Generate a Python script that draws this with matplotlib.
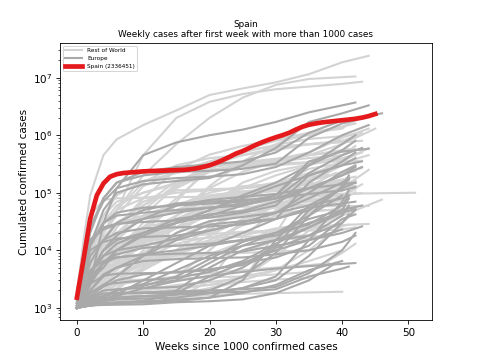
import numpy as np
import matplotlib.pyplot as plt

grid_weeks = [0, 1, 2, 4, 6, 10, 15, 20, 25, 30, 35, 40]

row_end = [44, 42, 43, 42, 41, 42, 43, 42, 45, 42, 42, 42, 44, 41, 41, 43, 43, 44, 41, 46,
           51, 44, 43, 42, 40, 44, 42, 41, 42, 41, 42, 42, 41, 42, 42, 43, 42, 41, 42, 42,
           42, 41, 40, 40, 40, 40, 39, 39, 40, 38, 40, 36, 41, 39, 42, 36, 42, 41, 41, 42,
           43, 44, 41, 35, 35, 38, 44, 42, 43]
row_cases = [
    [1500, 1.5e4, 9e4, 4.5e5, 8.5e5, 1.5e6, 2.7e6, 5e6, 6.5e6, 8.3e6, 1.15e7, 1.85e7, 2.4e7],
    [1000, 2000, 4000, 2e4, 5e4, 2e5, 7e5, 2e6, 4.5e6, 7.5e6, 9.5e6, 1.02e7, 1.05e7],
    [1000, 2000, 5000, 2e4, 5e4, 4.5e5, 2e6, 3.8e6, 5.2e6, 6.3e6, 7e6, 7.8e6, 8.5e6],
    [1000, 2000, 3500, 1e4, 2.5e4, 8e4, 2.5e5, 4.6e5, 6.5e5, 8.5e5, 1.1e6, 1.4e6, 1.6e6],
    [1000, 1500, 2000, 3500, 6000, 1.5e4, 4e4, 1.3e5, 3.5e5, 7e5, 1.1e6, 1.3e6, 1.6e6],
    [1000, 1500, 2500, 4500, 8000, 2.5e4, 8e4, 2.5e5, 5.5e5, 8e5, 1e6, 1.4e6, 1.8e6],
    [1100, 1600, 2000, 4500, 8000, 2.5e4, 7e4, 3e5, 5.5e5, 6.4e5, 6.9e5, 7.8e5, 1.1e6],
    [1000, 2500, 6000, 2e4, 4e4, 1.3e5, 2.3e5, 3.5e5, 5e5, 6.8e5, 8.6e5, 9.6e5, 1.05e6],
    [1500, 6000, 1.4e4, 4e4, 7e4, 1e5, 1.4e5, 1.9e5, 2.7e5, 3.6e5, 4.5e5, 7e5, 1.3e6],
    [1000, 2500, 4000, 8000, 1.5e4, 4e4, 1.3e5, 2.8e5, 3.4e5, 3.9e5, 4.5e5, 5.2e5, 5.8e5],
    [1000, 2000, 3500, 7000, 1.1e4, 1.8e4, 3e4, 6e4, 1.2e5, 2e5, 3e5, 4.5e5, 6.5e5],
    [1000, 3000, 4000, 7500, 1e4, 1.4e4, 2.5e4, 6e4, 1.5e5, 2.4e5, 3.1e5, 3.8e5, 4.5e5],
    [1000, 4000, 1e4, 2.8e4, 5e4, 8e4, 1e5, 1.1e5, 1.2e5, 1.4e5, 2e5, 3.5e5, 6e5],
    [1000, 1200, 1600, 2500, 3500, 1e4, 4e4, 1.2e5, 2.3e5, 3.5e5, 4.5e5, 5.5e5, 5.8e5],
    [1000, 2500, 5000, 1.3e4, 3e4, 6e4, 1.6e5, 2.5e5, 3e5, 3.5e5, 4e5, 4.5e5, 5e5],
    [1000, 2500, 4000, 1e4, 2e4, 5e4, 1.4e5, 2.4e5, 2.8e5, 3e5, 3.3e5, 4e5, 5e5],
    [1000, 1500, 3000, 8000, 1.7e4, 6e4, 1.2e5, 2.3e5, 2.9e5, 3.2e5, 3.4e5, 3.5e5, 3.6e5],
    [1000, 3000, 6000, 1e4, 1.4e4, 1.6e4, 1.7e4, 2.2e4, 7e4, 1.3e5, 2.6e5, 3.3e5, 4.5e5],
    [1000, 1500, 2500, 4000, 5500, 7500, 9000, 1.3e4, 3e4, 7e4, 1.7e5, 3e5, 4.3e5],
    [1000, 6000, 8000, 9800, 1.04e4, 1.1e4, 1.2e4, 1.4e4, 1.8e4, 2.4e4, 2.9e4, 4e4, 7.6e4],
    [2000, 1.2e4, 4e4, 7.5e4, 8e4, 8.2e4, 8.4e4, 8.5e4, 8.8e4, 9.3e4, 9.5e4, 9.6e4, 1e5],
    [1000, 2500, 4000, 6000, 6600, 7000, 7200, 8500, 1.4e4, 2.3e4, 2.6e4, 2.75e4, 2.87e4],
    [1000, 2000, 3000, 5000, 6000, 6800, 8000, 8700, 9200, 1.5e4, 4.5e4, 9e4, 1.4e5],
    [1000, 1500, 2200, 2800, 3000, 3100, 3200, 3400, 3500, 3800, 4200, 9000, 1.3e4],
    [1000, 1200, 1300, 1450, 1480, 1500, 1550, 1650, 1750, 1800, 1850, 1900],
    [1000, 1300, 1800, 4000, 9000, 1.4e4, 1.7e4, 2e4, 3.4e4, 6.5e4, 8.5e4, 1.2e5, 2.5e5],
    [1000, 1800, 3000, 6000, 9000, 1.6e4, 2.5e4, 4e4, 6e4, 8e4, 1e5, 1.2e5, 1.3e5],
    [1000, 1400, 2000, 3000, 4500, 9000, 2e4, 4.5e4, 7e4, 9e4, 1.1e5, 1.3e5, 1.4e5],
    [1100, 3000, 7000, 2.2e4, 3e4, 3.8e4, 5e4, 8e4, 1.2e5, 1.5e5, 1.9e5, 2.1e5, 2.4e5],
    [1000, 1500, 2500, 5000, 1e4, 2.5e4, 6e4, 1e5, 1.3e5, 1.4e5, 1.45e5, 1.6e5, 1.9e5],
    [1000, 2000, 3500, 6000, 8000, 1.3e4, 3e4, 7e4, 1e5, 1.2e5, 1.6e5, 2.3e5, 2.8e5],
    [1000, 2000, 4000, 6500, 1e4, 2e4, 4e4, 8e4, 1.05e5, 1.2e5, 1.4e5, 1.7e5, 1.9e5],
    [1000, 1300, 1700, 3000, 6000, 1.5e4, 3.5e4, 6.5e4, 8e4, 9.5e4, 1.15e5, 1.35e5, 1.4e5],
    [1000, 1800, 2800, 5000, 9000, 2.2e4, 6e4, 9e4, 1e5, 1.06e5, 1.15e5, 1.4e5, 1.6e5],
    [1000, 2000, 3500, 1e4, 2.5e4, 7e4, 1.1e5, 1.15e5, 1.2e5, 1.3e5, 1.38e5, 1.44e5, 1.48e5],
    [1000, 2000, 4500, 1.2e4, 2e4, 3.5e4, 4.8e4, 6e4, 8e4, 1.2e5, 1.7e5, 2.2e5, 2.7e5],
    [1000, 1500, 2500, 5000, 1e4, 3e4, 5e4, 7e4, 9e4, 1.2e5, 1.4e5, 1.5e5, 1.6e5],
    [1000, 1400, 2000, 4000, 6500, 1.3e4, 2.4e4, 4e4, 5e4, 5.8e4, 6.3e4, 7.5e4, 1.1e5],
    [1000, 1500, 2000, 4500, 6000, 9000, 1.6e4, 3.2e4, 4.2e4, 4.6e4, 4.8e4, 5.2e4, 5.8e4],
    [1000, 1300, 1800, 2700, 4000, 6000, 1e4, 1.5e4, 2.7e4, 3.9e4, 5e4, 7.5e4, 1.02e5],
    [1000, 1200, 1500, 2000, 3000, 5000, 1e4, 2.5e4, 4.5e4, 6e4, 7.5e4, 9e4, 1.15e5],
    [1000, 1100, 1200, 1300, 1500, 2000, 3500, 1e4, 3e4, 6e4, 1e5, 1.4e5, 1.7e5],
    [1000, 1150, 1300, 1800, 2600, 4500, 1e4, 2.5e4, 5e4, 7.5e4, 9e4, 1.08e5],
    [1000, 1300, 1500, 1700, 1850, 2000, 2300, 2500, 3500, 4500, 6500, 1e4],
    [1000, 1050, 1200, 1500, 1800, 2000, 2500, 2800, 3300, 8000, 2.2e4, 4.3e4],
    [1000, 1050, 1100, 1200, 1300, 1400, 1700, 2200, 3000, 4500, 1e4, 2.7e4],
    [1000, 1100, 1300, 1800, 2500, 4500, 9000, 1.8e4, 3.5e4, 6e4, 8e4, 1.1e5],
    [1000, 1050, 1100, 1200, 1400, 1800, 3500, 1e4, 3e4, 6.5e4, 1.3e5, 2.2e5],
    [1000, 1050, 1100, 1150, 1200, 1400, 1700, 2100, 3000, 2e4, 1.5e5, 3e5],
    [1000, 1500, 2500, 5000, 1e4, 1.7e4, 2.5e4, 4e4, 7e4, 1.5e5, 2.2e5, 2.55e5],
    [1000, 1500, 3000, 5000, 8000, 1.5e4, 4e4, 9e4, 1.05e5, 1.1e5, 1.25e5, 1.6e5],
    [1000, 1100, 1300, 1600, 2200, 5000, 1e4, 1.3e4, 1.5e4, 1.65e4, 1.8e4, 2e4],
    [1000, 1500, 2000, 3000, 6000, 1.2e4, 1.7e4, 1.9e4, 2.1e4, 2.2e4, 2.4e4, 2.6e4, 2.8e4],
    [1000, 1300, 1700, 2500, 3500, 5500, 8500, 1.3e4, 1.5e4, 1.55e4, 1.6e4, 2.1e4],
    [1000, 1100, 1300, 2000, 3000, 7000, 1.3e4, 1.7e4, 2e4, 2.1e4, 2.2e4, 2.3e4, 2.5e4],
    [1000, 1300, 1900, 3500, 7000, 1.2e4, 1.5e4, 1.65e4, 1.72e4, 1.76e4, 1.8e4, 1.85e4],
    [1000, 1500, 2500, 5000, 1.2e4, 2.5e4, 3.3e4, 3.7e4, 3.9e4, 4.1e4, 4.7e4, 5.2e4, 5.4e4],
    [1000, 1500, 1900, 2800, 3500, 6000, 1.5e4, 3e4, 5e4, 6.2e4, 7e4, 7.5e4, 7.8e4],
    [1000, 1100, 1200, 1400, 2000, 5000, 3e4, 4e4, 4.5e4, 5.5e4, 7.5e4, 8e4, 8.2e4],
    [1000, 2000, 3000, 6000, 1.5e4, 4e4, 6.5e4, 8e4, 9.5e4, 1.1e5, 1.22e5, 1.28e5, 1.32e5],
    [1000, 1500, 2500, 4500, 9000, 2e4, 3.5e4, 4.8e4, 6.2e4, 7.8e4, 8.6e4, 9.2e4, 9.8e4],
    [1000, 2500, 6000, 1.7e4, 3e4, 4e4, 4.7e4, 5.5e4, 5.7e4, 5.8e4, 5.8e4, 5.85e4, 5.9e4],
    [1000, 1050, 1100, 1150, 1180, 1200, 1400, 3000, 1.7e4, 5e4, 1e5, 1.4e5, 1.8e5],
    [1000, 1500, 3000, 6000, 7000, 7800, 8300, 8700, 9000, 9500, 1e4],
    [1000, 1100, 1200, 1400, 1600, 1800, 2100, 2500, 2800, 3100, 3300],
    [1000, 1200, 1500, 2000, 2500, 3000, 3500, 4000, 4500, 5000, 5500, 6000],
    [1000, 3000, 1e4, 4e4, 9e4, 1.6e5, 2.2e5, 2.8e5, 3.2e5, 3.8e5, 5e5, 9e5, 1.3e6],
    [1000, 2000, 5000, 2e4, 5e4, 1.5e5, 3e5, 4e5, 4.5e5, 5.5e5, 7e5, 8e5, 9e5],
    [1000, 2500, 8000, 3e4, 6e4, 1e5, 1.5e5, 3e5, 4.5e5, 6e5, 7e5, 7.5e5, 8e5],
]

eu_end = [42, 44, 46, 44, 44, 42, 42, 43, 44, 42, 42, 42, 43, 43, 42, 41, 41, 42, 41, 40,
          42, 43, 43, 42, 41, 41, 41, 41, 41, 41, 40, 42, 42, 42, 39, 41, 40, 42, 42, 42,
          41, 41, 42]
eu_cases = [
    [1000, 1500, 2500, 3e4, 1.2e5, 4.5e5, 7.5e5, 1e6, 1.25e6, 1.7e6, 2.5e6, 3.3e6, 3.7e6],
    [1200, 4000, 1.2e4, 5e4, 1e5, 1.4e5, 1.6e5, 1.8e5, 3e5, 6e5, 1.7e6, 2.4e6, 3.3e6],
    [1100, 5000, 2e4, 8e4, 1.5e5, 2.3e5, 2.8e5, 3.1e5, 3.5e5, 5e5, 1.1e6, 1.8e6, 2.4e6],
    [1500, 6000, 2.5e4, 8e4, 1.5e5, 2e5, 2.3e5, 2.4e5, 2.6e5, 3.2e5, 9e5, 1.6e6, 2.1e6],
    [1200, 5000, 2.5e4, 7e4, 1.2e5, 1.6e5, 1.8e5, 1.9e5, 2.1e5, 2.8e5, 5e5, 1.0e6, 1.5e6],
    [1000, 2000, 4000, 8000, 1.3e4, 2e4, 3e4, 4e4, 6e4, 9e4, 3e5, 7e5, 1.0e6],
    [1000, 1500, 2500, 6000, 1e4, 1.8e4, 3e4, 5e4, 9e4, 1.5e5, 3e5, 5.5e5, 8e5],
    [1300, 5000, 1.2e4, 3e4, 4e4, 4.5e4, 5e4, 5.5e4, 6e4, 8e4, 2.2e5, 4.5e5, 6e5],
    [1100, 4000, 1.2e4, 3e4, 4.5e4, 5.5e4, 6e4, 6.5e4, 7e4, 9e4, 3.5e5, 5.2e5, 5.8e5],
    [1000, 2000, 3000, 6000, 7500, 8500, 1e4, 1.2e4, 2e4, 3.5e4, 1.5e5, 3.5e5, 5e5],
    [1000, 2000, 4000, 1e4, 1.5e4, 2e4, 3e4, 5e4, 8e4, 1.3e5, 2e5, 3e5, 4e5],
    [1300, 6000, 1.5e4, 2.3e4, 2.8e4, 3.5e4, 4.5e4, 5.5e4, 6.5e4, 8e4, 1.2e5, 2e5, 2.8e5],
    [1000, 2000, 4000, 1e4, 1.8e4, 3.5e4, 6e4, 7.5e4, 8.5e4, 9.5e4, 1.2e5, 2e5, 2.8e5],
    [1400, 6000, 1.5e4, 2.5e4, 2.9e4, 3.1e4, 3.3e4, 3.7e4, 4.5e4, 6e4, 2e5, 3e5, 3.5e5],
    [1200, 4500, 1e4, 1.4e4, 1.6e4, 1.7e4, 1.8e4, 2.2e4, 3e4, 4.5e4, 1e5, 2.3e5, 3e5],
    [1000, 1800, 4000, 8000, 1e4, 1.2e4, 1.6e4, 2.8e4, 3.2e4, 3.5e4, 5e4, 1.2e5, 2e5],
    [1000, 1200, 1600, 2300, 3000, 3800, 4200, 4700, 5500, 1.2e4, 5e4, 1.2e5, 1.8e5],
    [1100, 3000, 8000, 1.5e4, 2e4, 2.4e4, 2.5e4, 2.6e4, 2.8e4, 3.5e4, 5.5e4, 6.5e4, 7e4],
    [1000, 1300, 1800, 2500, 2700, 3000, 3300, 4200, 6500, 1.3e4, 2.5e4, 5e4, 8e4],
    [1000, 1100, 1300, 1500, 1500, 1600, 1700, 2000, 3500, 9000, 4e4, 9e4],
    [1100, 2500, 6000, 1.5e4, 3e4, 5e4, 6.5e4, 7e4, 7.5e4, 8e4, 9.5e4, 1.1e5, 1.25e5],
    [1200, 2000, 3500, 6000, 8500, 1.1e4, 1.2e4, 1.3e4, 1.5e4, 2e4, 3.5e4, 5e4, 6e4],
    [1100, 3000, 4500, 6500, 7500, 8300, 8700, 9000, 9500, 1.2e4, 1.5e4, 2e4, 2.6e4],
    [1000, 1300, 2000, 3800, 5000, 6500, 7000, 7300, 7500, 8500, 1e4, 1.4e4, 1.8e4],
    [1000, 1200, 1500, 2000, 2100, 2200, 2300, 3000, 5000, 1.1e4, 1.8e4, 4e4, 6e4],
    [1000, 1100, 1300, 1600, 2000, 2400, 3500, 7000, 1.4e4, 2e4, 4e4, 1.3e5, 1.7e5],
    [1000, 1100, 1200, 1300, 1400, 1450, 1500, 1800, 2200, 3500, 1.5e4, 7e4, 1.1e5],
    [1000, 1100, 1300, 1500, 2000, 2500, 3000, 6000, 1.2e4, 2e4, 2.8e4, 6e4, 9e4],
    [1000, 1300, 2000, 3500, 5000, 8000, 1.5e4, 2.2e4, 3e4, 4.5e4, 6e4, 8e4, 9e4],
    [1000, 1200, 1400, 1600, 2000, 2600, 4500, 8000, 1.2e4, 1.5e4, 1.8e4, 3e4, 4.2e4],
    [1000, 1050, 1100, 1150, 1200, 1300, 1800, 3500, 6000, 1e4, 1.5e4, 2.3e4],
    [1000, 1100, 1200, 1400, 1500, 1600, 1700, 1800, 2200, 3000, 8000, 3e4, 5e4],
    [1200, 2000, 2600, 3600, 3900, 4000, 4100, 4500, 6000, 7500, 1.2e4, 3.5e4, 4.2e4],
    [1000, 1200, 1400, 1600, 1800, 1850, 1950, 2000, 2100, 2300, 4000, 1e4, 2e4],
    [1000, 1050, 1100, 1120, 1130, 1150, 1250, 1300, 1400, 1800, 3000, 6000],
    [1000, 1300, 1500, 1780, 1800, 1800, 1810, 1830, 1900, 2100, 3500, 4800, 5200],
    [1000, 1050, 1100, 1200, 1250, 1300, 1400, 1500, 1800, 2500, 4500, 6500],
    [1000, 1050, 1100, 1300, 1600, 2200, 2900, 3600, 4200, 4800, 5300, 5800, 6000],
    [1000, 1050, 1100, 1150, 1200, 1250, 1300, 1500, 3000, 1.5e4, 6e4, 1.2e5, 1.5e5],
    [1000, 1500, 3000, 5000, 1e4, 2e4, 3.5e4, 4.2e4, 4.8e4, 7e4, 1.2e5, 1.4e5, 1.5e5],
    [1000, 1300, 1800, 2500, 3500, 8000, 2e4, 3.2e4, 3.8e4, 4.5e4, 8e4, 1.5e5, 1.8e5],
    [1000, 1050, 1100, 1150, 1200, 1300, 2000, 5000, 1e4, 1.5e4, 2.5e4, 4.5e4, 5.5e4],
    [1000, 1100, 1200, 1400, 1700, 3000, 6000, 1.2e4, 1.5e4, 1.8e4, 3e4, 4.5e4, 5.2e4],
]

spain_weeks = list(range(46))
spain_cases = [1500, 7000, 3.5e4, 9e4, 1.45e5, 1.9e5, 2.1e5, 2.2e5, 2.25e5, 2.3e5,
               2.35e5, 2.38e5, 2.4e5, 2.42e5, 2.45e5, 2.47e5, 2.5e5, 2.55e5, 2.65e5, 2.8e5,
               3e5, 3.3e5, 3.7e5, 4.2e5, 4.8e5, 5.3e5, 6e5, 6.8e5, 7.6e5, 8.4e5,
               9.2e5, 1e6, 1.1e6, 1.25e6, 1.4e6, 1.52e6, 1.6e6, 1.67e6, 1.72e6, 1.77e6,
               1.82e6, 1.87e6, 1.93e6, 2.02e6, 2.15e6, 2336451]


fig, ax = plt.subplots(figsize=(6.4, 4.8), dpi=75)

for i, (vals, end) in enumerate(zip(row_cases, row_end)):
    ax.plot(grid_weeks[:len(vals) - 1] + [end], vals, color='lightgray', lw=2,
            solid_joinstyle='round', label='Rest of World' if i == 0 else None)

for i, (vals, end) in enumerate(zip(eu_cases, eu_end)):
    ax.plot(grid_weeks[:len(vals) - 1] + [end], vals, color='darkgray', lw=2,
            solid_joinstyle='round', label='Europe' if i == 0 else None)

ax.plot(spain_weeks, spain_cases, color='#e41a1c', lw=4.5,
        label='Spain (%d)' % spain_cases[-1])

ax.set_yscale('log')
ax.set_title('Spain\nWeekly cases after first week with more than 1000 cases', fontsize=8.5)
ax.set_xlabel('Weeks since 1000 confirmed cases')
ax.set_ylabel('Cumulated confirmed cases')
ax.legend(loc='upper left', fontsize=5.5, handlelength=3)

fig.savefig('out.png')
